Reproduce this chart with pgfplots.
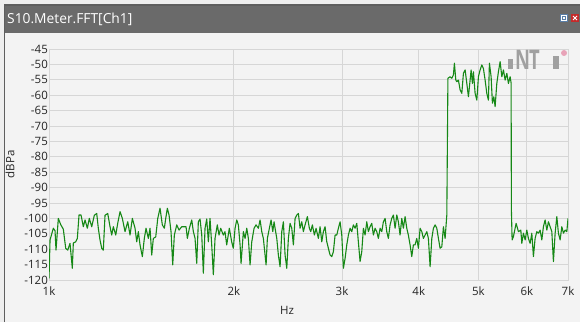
\documentclass[border=0pt]{standalone}
\usepackage{fontspec}
\setmainfont{Open Sans}
\usepackage{pgfplots}
\pgfplotsset{compat=1.18}
\definecolor{pagec}{HTML}{EEEEEE}
\definecolor{bgc}{HTML}{F3F3F3}
\definecolor{titlec}{HTML}{6A6A6A}
\definecolor{bordc}{HTML}{5E5E5E}
\definecolor{gridc}{HTML}{D6D6D6}
\definecolor{tickc}{HTML}{262626}
\definecolor{plotgreen}{RGB}{22,136,22}
\definecolor{logoc}{HTML}{A0A0A0}
\definecolor{logopink}{HTML}{E8A3B8}
\definecolor{closered}{HTML}{C42B2B}
\definecolor{iconblue}{HTML}{5B7FA8}
\begin{document}
\begin{tikzpicture}[x=1pt,y=1pt]
\useasboundingbox (0,0) rectangle (580,322);
\fill[pagec] (0,0) rectangle (580,322);
\fill[bgc] (4,0) rectangle (580,289);
\fill[titlec] (4,289) rectangle (580,317);
\draw[bordc, line width=1.2pt] (4.6,0) -- (4.6,317) -- (580,317);
\node[anchor=west, inner sep=0pt, text=white, font=\fontsize{13.8}{15}\selectfont] at (7,303) {S10.Meter.FFT[Ch1]};
% window icons
\fill[white] (560,300) rectangle (568,308);
\draw[iconblue, line width=0.8pt] (560.5,300.5) rectangle (567.5,307.5);
\draw[iconblue, line width=0.8pt] (562.5,302.5) rectangle (565.5,305.5);
\fill[closered] (571,300) rectangle (579,308);
\draw[white, line width=0.9pt] (573,302) -- (577,306) (573,306) -- (577,302);
\begin{axis}[
  at={(49pt,42pt)}, anchor=south west,
  scale only axis, width=519pt, height=231pt,
  xmode=log,
  xmin=1000, xmax=7000, ymin=-120, ymax=-45,
  xtick={1000,2000,3000,4000,5000,6000,7000},
  xticklabels={1k,2k,3k,4k,5k,6k,7k},
  minor xtick={},
  ytick={-120,-115,-110,-105,-100,-95,-90,-85,-80,-75,-70,-65,-60,-55,-50,-45},
  yticklabels={-120,-115,-110,-105,-100,-95,-90,-85,-80,-75,-70,-65,-60,-55,-50,-45},
  /pgf/number format/assume math mode=true,
  major tick length=0pt,
  tick style={draw=none},
  grid=major,
  grid style={draw=gridc, line width=1pt},
  axis line style={draw=gridc, line width=1pt},
  ticklabel style={font=\fontsize{11.5}{13}\selectfont, text=tickc},
  yticklabel style={anchor=east, inner sep=0pt, xshift=-1pt},
  xticklabel style={anchor=base, inner sep=0pt, yshift=-15pt},
  xlabel={Hz}, ylabel={dBPa},
  xlabel style={at={(axis description cs:0.4586,0)}, anchor=center, yshift=-30pt, font=\fontsize{11.5}{13}\selectfont, text=tickc},
  ylabel style={at={(axis description cs:-0.0751,0.5)}, anchor=center, rotate=0, font=\fontsize{11.5}{13}\selectfont, text=tickc},
]
% logo (behind the curve)
\fill[logoc] (rel axis cs:0.8844,0.9134) rectangle (rel axis cs:0.8940,0.9567);
\node[anchor=base west, inner sep=0pt, text=logoc, font=\fontsize{27}{27}\selectfont\bfseries, xscale=0.68, transform shape] at (rel axis cs:0.8979,0.9134) {N};
\node[anchor=base west, inner sep=0pt, text=logoc, font=\fontsize{27}{27}\selectfont\bfseries, xscale=0.68, transform shape] at (rel axis cs:0.9249,0.9134) {T};
\fill[logoc] (rel axis cs:0.9711,0.9134) rectangle (rel axis cs:0.9827,0.9697);
\fill[logopink] (rel axis cs:0.9923,0.9827) circle (3pt);
\addplot[color=plotgreen, line width=1.1pt, line join=round, mark=none] coordinates {
(1000,-119.5) (1003.8,-107) (1016.3,-103.2) (1022.8,-104) (1026.6,-110.3)
(1035.5,-100) (1044.8,-102) (1055.1,-103.5) (1064.6,-109.7) (1072.6,-110.3)
(1081.9,-108.1) (1091.3,-116.2) (1095.4,-108) (1105.3,-107.6) (1112.0,-106.5)
(1119.1,-98.9) (1127.5,-98.9) (1137.3,-102.7) (1144.6,-100.5) (1154.5,-103.2)
(1163.1,-100) (1173.6,-102.7) (1185.1,-99) (1195.8,-98.4) (1203.0,-103.2)
(1210.7,-107) (1218.5,-109.7) (1225.8,-110.3) (1233.6,-99) (1246.2,-98.4)
(1257.0,-102.7) (1265.0,-105.4) (1272.7,-102.7) (1284.2,-105.4) (1293.8,-101.6)
(1305.1,-97.8) (1316.4,-100) (1329.8,-104.3) (1343.3,-101.1) (1355.0,-105.4)
(1366.7,-100) (1380.6,-103.2) (1389.4,-107.6) (1397.8,-104.3) (1406.7,-108.6)
(1418.9,-112.4) (1429.5,-106.5) (1438.7,-103.2) (1451.1,-106.5) (1460.5,-103.2)
(1469.8,-111.9) (1478.7,-106.5) (1492.0,-106) (1503.3,-100) (1516.3,-96.7)
(1529.4,-102.1) (1540.9,-103.2) (1549.0,-100) (1558.4,-96.7) (1568.3,-98.9)
(1580.1,-104.3) (1590.2,-115.1) (1599.8,-105.4) (1614.3,-102.1) (1628.3,-103.8)
(1644.9,-102.7) (1671.6,-102.7) (1679.8,-106.5) (1692.4,-103.2) (1707.7,-100.5)
(1718.0,-104.3) (1729.0,-106.5) (1740.0,-114.6) (1750.5,-101.1) (1761.7,-100.2)
(1772.9,-105.4) (1783.6,-117.8) (1795.0,-103.2) (1806.5,-100.2) (1817.4,-107.6)
(1828.9,-100) (1840.6,-108.6) (1851.7,-118.3) (1863.6,-106.5) (1879.7,-102.1)
(1891.7,-105.4) (1903.8,-103.2) (1922.5,-105.4) (1934.7,-104.3) (1947.1,-108.6)
(1966.2,-103.2) (1984.0,-107.6) (1995.9,-109.7) (2008.7,-103.2) (2021.5,-100.5)
(2033.7,-102.1) (2046.8,-108.6) (2054.5,-114.6) (2072.2,-104.3) (2085.5,-106.5)
(2098.8,-103.2) (2111.5,-106.5) (2125.0,-115.1) (2138.5,-107.6) (2157.1,-103.2)
(2173.3,-102.1) (2192.1,-103.2) (2206.2,-100.5) (2220.3,-104.3) (2233.6,-106.5)
(2256.4,-115.1) (2267.4,-106.5) (2284.5,-103.2) (2299.1,-100.5) (2313.8,-104.3)
(2325.1,-101.1) (2333.8,-103.2) (2348.8,-106.5) (2362.9,-111.9) (2378.0,-115.7)
(2393.2,-104.3) (2407.6,-101.1) (2423.0,-111.9) (2438.5,-116.2) (2453.2,-106.5)
(2468.8,-101.6) (2484.6,-103.2) (2499.6,-108.6) (2515.6,-100) (2531.7,-98.9)
(2546.9,-98.4) (2563.2,-103.2) (2579.6,-101.1) (2595.1,-104.3) (2611.7,-102.1)
(2634.3,-99.4) (2654.1,-103.2) (2668.1,-104.3) (2684.1,-102.1) (2704.3,-105.4)
(2721.6,-103.2) (2745.2,-106.5) (2762.8,-102.7) (2780.5,-107.6) (2797.2,-104.3)
(2815.1,-102.7) (2833.1,-107.6) (2850.2,-109.7) (2868.4,-111.9) (2886.8,-112.4)
(2904.2,-110.8) (2922.7,-105.4) (2941.4,-105.4) (2959.1,-103.2) (2978.0,-101.1)
(2997.1,-105.4) (3015.1,-116.2) (3034.4,-113) (3053.8,-108.6) (3072.2,-105.4)
(3091.8,-103.2) (3111.5,-104.3) (3130.3,-102.1) (3150.3,-103.2) (3170.4,-101.6)
(3189.5,-107.6) (3209.9,-114) (3230.4,-110.8) (3249.9,-103.2) (3270.7,-105.4)
(3291.6,-101.1) (3311.4,-104.3) (3332.6,-102.7) (3353.9,-101.6) (3374.1,-105.4)
(3395.6,-103.2) (3417.4,-104.3) (3437.9,-106.5) (3460.0,-103.2) (3482.1,-104.3)
(3503.0,-101.1) (3525.4,-100) (3548.0,-104.3) (3569.3,-106.5) (3592.1,-102.1)
(3615.1,-100) (3636.9,-98.9) (3660.1,-103.2) (3683.5,-98.9) (3705.7,-101.1)
(3729.5,-105.4) (3753.3,-100) (3775.9,-103.2) (3800.0,-99.4) (3824.4,-103.2)
(3847.4,-105.4) (3872.0,-108.6) (3896.8,-112.4) (3920.2,-108.6) (3945.3,-108.6)
(3970.5,-106.5) (3994.4,-109.7) (4019.8,-103.2) (4045.6,-104.3) (4069.9,-106.5)
(4095.9,-105.4) (4122.1,-104.3) (4146.9,-106.5) (4173.5,-115.7) (4200.2,-106.5)
(4225.5,-103.2) (4252.5,-102.1) (4279.7,-103.2) (4305.5,-106.5) (4333.0,-109.7)
(4360.7,-109.2) (4387.0,-102.7) (4415.0,-106.5) (4443.3,-98.9) (4461.6,-54.5)
(4498.5,-54) (4527.3,-54.5) (4554.6,-53.4) (4571.7,-49.6) (4595.7,-55.1)
(4613.0,-55.6) (4640.8,-55.1) (4670.5,-58.3) (4700.3,-59.4) (4728.6,-52.9)
(4758.9,-51.8) (4789.3,-56.2) (4818.1,-60.5) (4848.8,-55.1) (4867.1,-51.8)
(4890.9,-56.2) (4909.2,-52.4) (4940.6,-59.4) (4972.2,-61.6) (5002.2,-54)
(5034.0,-51.8) (5066.2,-50.2) (5096.7,-51.3) (5129.3,-55.1) (5162.1,-59.4)
(5193.2,-61.6) (5212.7,-49.6) (5246.0,-54) (5271.6,-62.6) (5299.4,-60.5)
(5325.3,-63.7) (5359.3,-56.2) (5391.6,-52.4) (5426.3,-49.1) (5461.0,-54)
(5493.9,-51.8) (5529.0,-55.1) (5564.4,-52.9) (5597.9,-56.2) (5633.6,-54)
(5654.8,-56) (5660.1,-97) (5676.0,-107) (5703.7,-105.9) (5761.8,-101.6)
(5811.7,-104.3) (5864.2,-103.8) (5886.2,-108.1) (5921.6,-104.8) (5959.5,-107)
(5997.6,-103.8) (6033.7,-106.5) (6072.2,-108.1) (6111.1,-104.8) (6147.8,-112.4)
(6187.2,-106.5) (6226.7,-104.3) (6264.2,-104.8) (6304.4,-103.8) (6344.7,-107)
(6382.9,-102.7) (6423.7,-100.5) (6464.8,-103.8) (6503.7,-101.1) (6545.3,-102.7)
(6587.2,-104.3) (6626.8,-114) (6669.2,-104.8) (6711.8,-99.4) (6752.2,-104.8)
(6795.4,-107) (6838.9,-102.7) (6880.1,-104.8) (6924.1,-103.8) (6968.3,-104.3)
(7000,-100)
};
\end{axis}
\end{tikzpicture}
\end{document}
